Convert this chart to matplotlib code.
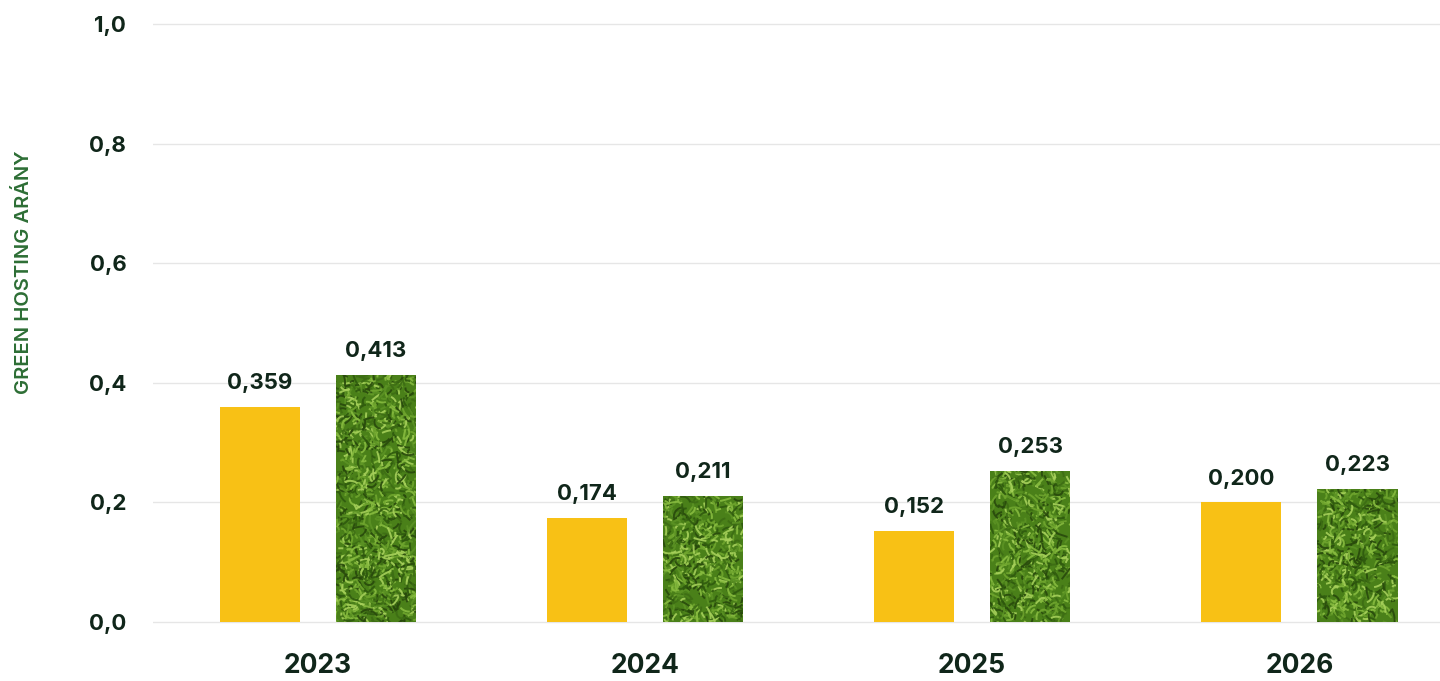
import matplotlib.pyplot as plt
import numpy as np
from matplotlib.collections import LineCollection

years = ['2023', '2024', '2025', '2026']
yellow_vals = [0.359, 0.174, 0.152, 0.200]
green_vals = [0.413, 0.211, 0.253, 0.223]
yticks = [0.0, 0.2, 0.4, 0.6, 0.8, 1.0]

plt.rcParams['font.family'] = ['Inter', 'DejaVu Sans']
dark = '#10261a'
yellow = '#f8c115'

fig = plt.figure(figsize=(14.4, 6.81), dpi=100)
ax = fig.add_axes([0.106, 0.0778, 0.894, 0.8957])

x = np.arange(len(years))
w = 0.245
off = 0.178

ax.bar(x - off, yellow_vals, w, color=yellow, zorder=2)
gbars = ax.bar(x + off, green_vals, w, color='#4a8019', zorder=2)

# grass texture: short curly strokes clipped to each green bar
rng = np.random.default_rng(3)
greens = ['#2f5a0e', '#3d6d14', '#5b9224', '#6fa52e', '#87bb3f', '#a6d05a', '#28490c']
px_x, px_y = 1 / 327, 1 / 598
for b in gbars:
    x0, w0, h0 = b.get_x(), b.get_width(), b.get_height()
    n = int(h0 * 598 * 80 / 18)
    cx = x0 + rng.random(n) * w0
    cy = rng.random(n) * h0
    ang = rng.random(n) * np.pi * 2
    ln = 5 + rng.random(n) * 12
    segs = []
    for i in range(n):
        t = np.linspace(0, 1, 6)
        a = ang[i] + t * rng.normal(0, 1.2)
        xs = cx[i] + np.cumsum(np.cos(a)) * ln[i] / 6 * px_x
        ys = cy[i] + np.cumsum(np.sin(a)) * ln[i] / 6 * px_y
        segs.append(np.column_stack([xs, ys]))
    cols = [greens[k] for k in rng.integers(0, len(greens), n)]
    lc = LineCollection(segs, colors=cols, linewidths=1.4, zorder=3, alpha=0.9)
    ax.add_collection(lc)
    lc.set_clip_path(b.get_path(), b.get_transform())

for xi, v in zip(x - off, yellow_vals):
    ax.annotate(f'{v:.3f}'.replace('.', ','), (xi, v), xytext=(0, 10),
                textcoords='offset points', ha='center', va='bottom',
                fontsize=16, fontweight='bold', color=dark)
for xi, v in zip(x + off, green_vals):
    ax.annotate(f'{v:.3f}'.replace('.', ','), (xi, v), xytext=(0, 10),
                textcoords='offset points', ha='center', va='bottom',
                fontsize=16, fontweight='bold', color=dark)

ax.set_ylim(-0.01, 1.01)
ax.set_xlim(-0.505, 3.43)
ax.set_yticks(yticks)
ax.set_yticklabels([f'{t:.1f}'.replace('.', ',') for t in yticks],
                   fontsize=16, fontweight='bold', color=dark)
ax.set_xticks(x)
ax.set_xticklabels(years, fontsize=19, fontweight='bold', color=dark)
ax.tick_params(axis='both', length=0)
ax.tick_params(axis='y', pad=19)
ax.tick_params(axis='x', pad=18)
for s in ax.spines.values():
    s.set_visible(False)
ax.grid(axis='y', color='#e6e6e6', linewidth=1, zorder=0)
ax.set_axisbelow(True)

fig.text(0.016, 0.60, 'GREEN HOSTING ARÁNY', rotation=90, ha='center', va='center',
         fontsize=14.5, fontweight='semibold', color='#2d6e35')

fig.savefig('out.png', dpi=100, facecolor='white')
